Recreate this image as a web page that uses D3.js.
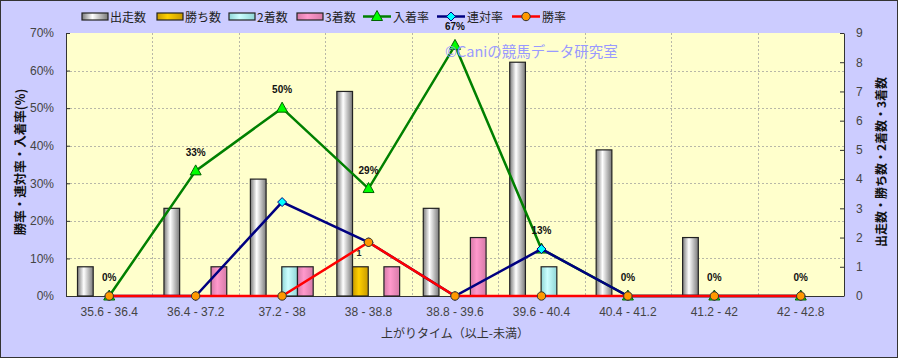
<!DOCTYPE html>
<html><head><meta charset="utf-8">
<script src="https://cdn.jsdelivr.net/npm/d3@7"></script>
<style>body{margin:0;background:#fff}svg{display:block}</style>
</head><body>
<script>
const categories = ["35.6 - 36.4","36.4 - 37.2","37.2 - 38","38 - 38.8","38.8 - 39.6","39.6 - 40.4","40.4 - 41.2","41.2 - 42","42 - 42.8"];
const starts   = [1,3,4,7,3,8,5,2,0];
const wins     = [0,0,0,1,0,0,0,0,0];
const seconds  = [0,0,1,0,0,1,0,0,0];
const thirds   = [0,1,1,1,2,0,0,0,0];
const placeRate = [0,33.3,50,28.6,66.7,12.5,0,0,0];
const quinRate  = [0,0,25,14.3,0,12.5,0,0,0];
const winRate   = [0,0,0,14.3,0,0,0,0,0];
const placeLabels = ["0%","33%","50%","29%","67%","13%","0%","0%","0%"];
const leftTicks = [0,10,20,30,40,50,60,70];
const rightTicks = [0,1,2,3,4,5,6,7,8,9];

const W=898,H=358;
const m={l:66,r:844,t:33,b:296};
const svg=d3.select("body").append("svg").attr("width",W).attr("height",H);
const defs=svg.append("defs");
function grad(id,edge,mid){
  const g=defs.append("linearGradient").attr("id",id).attr("x1","0").attr("x2","1").attr("y1","0").attr("y2","0");
  g.append("stop").attr("offset","0").attr("stop-color",edge);
  g.append("stop").attr("offset","0.4").attr("stop-color",mid);
  g.append("stop").attr("offset","1").attr("stop-color",edge);
}
grad("gS","#7a7a7a","#ffffff");
grad("gW","#c89a00","#ffd000");
grad("gP","#8fd6d6","#ccffff");
grad("gT","#d77aa8","#ff99cc");

svg.append("rect").attr("x",0.5).attr("y",0.5).attr("width",W-1).attr("height",H-1).attr("fill","#ccccff").attr("stroke","#333").attr("stroke-width",1);
svg.append("rect").attr("x",m.l).attr("y",m.t).attr("width",m.r-m.l).attr("height",m.b-m.t).attr("fill","#ffffcc");

const x=d3.scaleBand().domain(categories).range([m.l,m.r]);
const yL=d3.scaleLinear().domain([0,70]).range([m.b,m.t]);
const yR=d3.scaleLinear().domain([0,9]).range([m.b,m.t]);

// grid
const grid=svg.append("g").attr("stroke","#b8b8a8").attr("stroke-dasharray","2,2").attr("stroke-width",1);
leftTicks.slice(1,-1).forEach(t=>grid.append("line").attr("x1",m.l).attr("x2",m.r).attr("y1",Math.round(yL(t))+0.5).attr("y2",Math.round(yL(t))+0.5));
categories.slice(1).forEach(c=>grid.append("line").attr("x1",Math.round(x(c))+0.5).attr("x2",Math.round(x(c))+0.5).attr("y1",m.t).attr("y2",m.b));

// axes
const fontNum="'Liberation Sans',Arial,sans-serif";
const gl=svg.append("g").attr("transform",`translate(${m.l},0)`).call(d3.axisLeft(yL).tickValues(leftTicks).tickFormat(d=>d+"%").tickSizeInner(-4).tickSizeOuter(0).tickPadding(12));
const gr=svg.append("g").attr("transform",`translate(${m.r},0)`).call(d3.axisRight(yR).tickValues(rightTicks).tickSizeInner(-4).tickSizeOuter(0).tickPadding(12));
[gl,gr].forEach(g=>{g.selectAll("path,line").attr("stroke","#333");g.selectAll("text").attr("font-family",fontNum).attr("font-size",12).attr("fill","#444");});
svg.append("line").attr("x1",m.l).attr("x2",m.r).attr("y1",m.b+0.5).attr("y2",m.b+0.5).attr("stroke","#333");
svg.append("g").selectAll("text").data(categories).join("text")
  .attr("x",d=>x(d)+x.bandwidth()/2).attr("y",316).attr("text-anchor","middle")
  .attr("font-family",fontNum).attr("font-size",12).attr("fill","#444").text(d=>d);

// bars
const bw=15.7, off=11.5;
const series=[{v:starts,f:"url(#gS)"},{v:wins,f:"url(#gW)"},{v:seconds,f:"url(#gP)"},{v:thirds,f:"url(#gT)"}];
series.forEach((s,i)=>{
  svg.append("g").selectAll("rect").data(categories.map((c,j)=>({c,v:s.v[j]})).filter(d=>d.v>0)).join("rect")
    .attr("x",d=>x(d.c)+off+i*bw).attr("y",d=>yR(d.v)).attr("width",bw).attr("height",d=>m.b-yR(d.v))
    .attr("fill",s.f).attr("stroke","#222").attr("stroke-width",1.2);
});

const cx=c=>x(c)+x.bandwidth()/2;
// partial label
svg.append("text").attr("x",cx(categories[3])-12).attr("y",256).attr("font-family",fontNum).attr("font-size",9).attr("font-weight","bold").attr("fill","#222").text("1");

function tri(g,px,py,fill,stroke){g.append("path").attr("d",`M${px},${py-6}L${px+5.5},${py+4}L${px-5.5},${py+4}Z`).attr("fill",fill).attr("stroke",stroke).attr("stroke-width",1);}
function dia(g,px,py){g.append("path").attr("d",`M${px},${py-4.5}L${px+4.5},${py}L${px},${py+4.5}L${px-4.5},${py}Z`).attr("fill","#00ffff").attr("stroke","#000080").attr("stroke-width",1);}
function circ(g,px,py){g.append("circle").attr("cx",px).attr("cy",py).attr("r",4.2).attr("fill","#ff9900").attr("stroke","#333").attr("stroke-width",1);}

const line=d3.line();
const gP=svg.append("g");
gP.append("path").attr("d",line(categories.map((c,i)=>[cx(c),yL(placeRate[i])]))).attr("fill","none").attr("stroke","#008000").attr("stroke-width",2.5);
categories.forEach((c,i)=>tri(gP,cx(c),yL(placeRate[i]),"#00ff00","#006400"));
const gQ=svg.append("g");
gQ.append("path").attr("d",line(categories.map((c,i)=>[cx(c),yL(quinRate[i])]))).attr("fill","none").attr("stroke","#000080").attr("stroke-width",2.5);
categories.forEach((c,i)=>dia(gQ,cx(c),yL(quinRate[i])));
const gW=svg.append("g");
gW.append("path").attr("d",line(categories.map((c,i)=>[cx(c),yL(winRate[i])]))).attr("fill","none").attr("stroke","#ff0000").attr("stroke-width",2.5);
categories.forEach((c,i)=>circ(gW,cx(c),yL(winRate[i])));

// place labels
svg.append("g").selectAll("text").data(categories).join("text")
  .attr("x",c=>cx(c)).attr("y",(c,i)=>yL(placeRate[i])-15).attr("text-anchor","middle")
  .attr("font-family",fontNum).attr("font-size",10).attr("font-weight","bold").attr("fill","#111")
  .text((c,i)=>placeLabels[i]);

// watermark
svg.append("text").attr("x",445).attr("y",57).attr("font-family","'Noto Sans CJK JP',sans-serif").attr("font-size",14.5).attr("fill","#9999ff").text("©Caniの競馬データ研究室");

// axis titles
const fj="'Noto Sans CJK JP',sans-serif";
svg.append("text").attr("transform","translate(25,162) rotate(-90)").attr("text-anchor","middle").attr("font-family",fj).attr("font-size",12.5).attr("font-weight","bold").attr("fill","#111").text("勝率・連対率・入着率(%)");
svg.append("text").attr("transform","translate(886,162) rotate(-90)").attr("text-anchor","middle").attr("font-family",fj).attr("font-size",12).attr("font-weight","bold").attr("fill","#111").text("出走数・勝ち数・2着数・3着数");
svg.append("text").attr("x",455).attr("y",338).attr("text-anchor","middle").attr("font-family",fj).attr("font-size",12).attr("fill","#333").text("上がりタイム（以上-未満）");

// legend
const lg=svg.append("g");
const legBars=[{x:82,f:"url(#gS)",t:"出走数"},{x:157,f:"url(#gW)",t:"勝ち数"},{x:229,f:"url(#gP)",t:"2着数"},{x:297,f:"url(#gT)",t:"3着数"}];
legBars.forEach(d=>{
  lg.append("rect").attr("x",d.x).attr("y",13).attr("width",26).attr("height",7).attr("fill",d.f).attr("stroke","#222").attr("stroke-width",1.2);
  lg.append("text").attr("x",d.x+28).attr("y",21.5).attr("font-family",fj).attr("font-size",12).attr("fill","#222").text(d.t);
});
const legLines=[{x:363,c:"#008000",m:"t",t:"入着率"},{x:437,c:"#000080",m:"d",t:"連対率"},{x:512,c:"#ff0000",m:"c",t:"勝率"}];
legLines.forEach(d=>{
  lg.append("line").attr("x1",d.x).attr("x2",d.x+28).attr("y1",16.5).attr("y2",16.5).attr("stroke",d.c).attr("stroke-width",2.5);
  const px=d.x+14,py=16.5;
  if(d.m==="t")tri(lg,px,py,"#00ff00","#006400");else if(d.m==="d")dia(lg,px,py);else circ(lg,px,py);
  lg.append("text").attr("x",d.x+30).attr("y",21.5).attr("font-family",fj).attr("font-size",12).attr("fill","#222").text(d.t);
});
</script>
</body></html>
